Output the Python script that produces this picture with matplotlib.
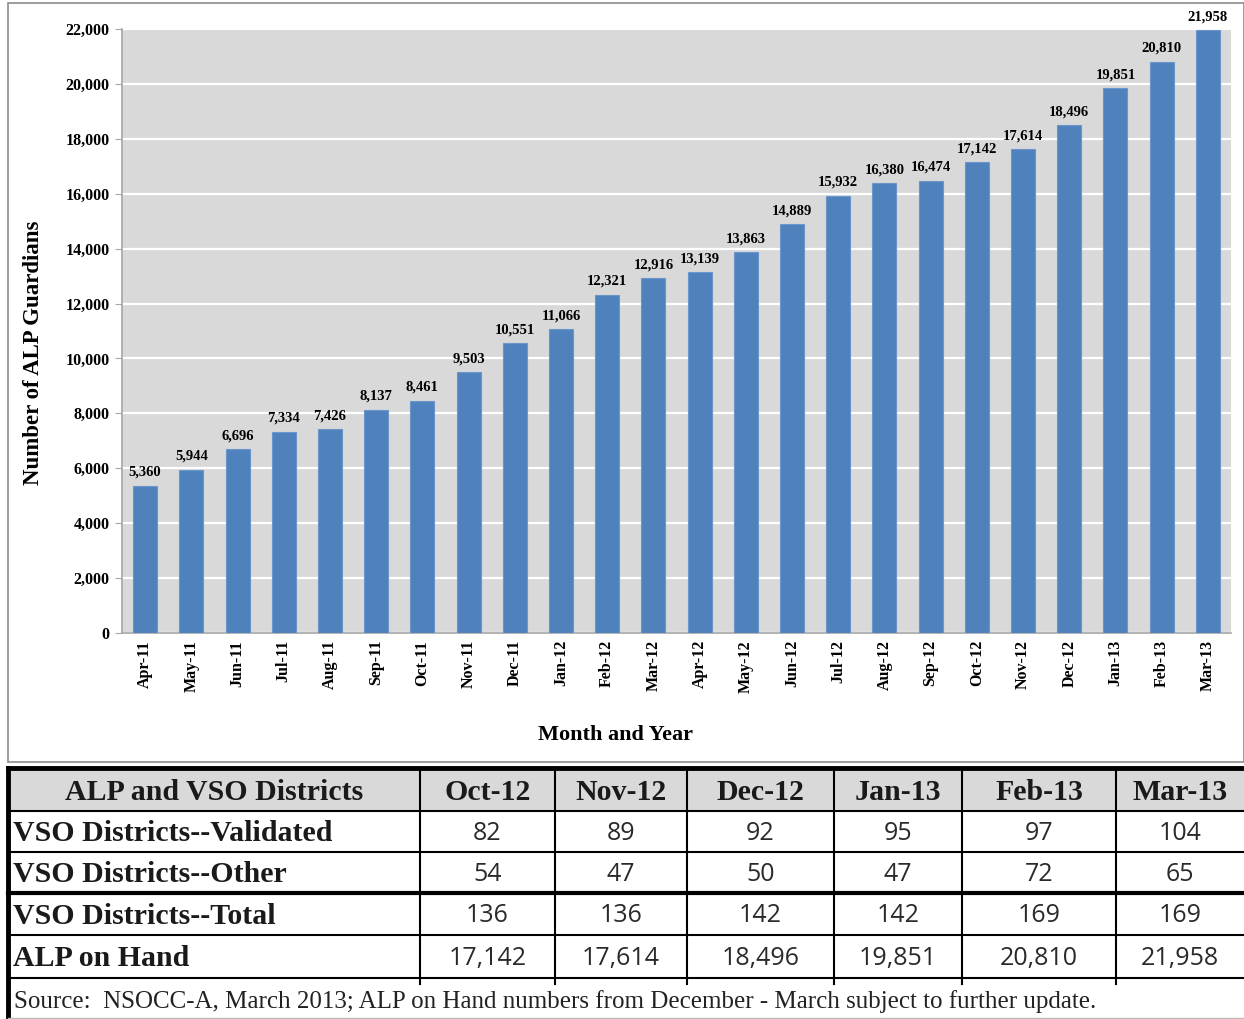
import matplotlib
matplotlib.use("Agg")
import matplotlib.pyplot as plt
from matplotlib.patches import Rectangle
from matplotlib.lines import Line2D
from matplotlib.ticker import FuncFormatter, MultipleLocator

months = ["Apr-11", "May-11", "Jun-11", "Jul-11", "Aug-11", "Sep-11", "Oct-11", "Nov-11",
          "Dec-11", "Jan-12", "Feb-12", "Mar-12", "Apr-12", "May-12", "Jun-12", "Jul-12",
          "Aug-12", "Sep-12", "Oct-12", "Nov-12", "Dec-12", "Jan-13", "Feb-13", "Mar-13"]
guardians = [5360, 5944, 6696, 7334, 7426, 8137, 8461, 9503, 10551, 11066, 12321, 12916,
             13139, 13863, 14889, 15932, 16380, 16474, 17142, 17614, 18496, 19851, 20810, 21958]

table_header = ["ALP and VSO Districts", "Oct-12", "Nov-12", "Dec-12", "Jan-13", "Feb-13", "Mar-13"]
row_labels = ["VSO Districts--Validated", "VSO Districts--Other", "VSO Districts--Total", "ALP on Hand"]
vso_validated = [82, 89, 92, 95, 97, 104]
vso_other = [54, 47, 50, 47, 72, 65]
vso_total = [136, 136, 142, 142, 169, 169]
alp_on_hand = [17142, 17614, 18496, 19851, 20810, 21958]
source_note = "Source:  NSOCC-A, March 2013; ALP on Hand numbers from December - March subject to further update."

SERIF = ["Liberation Serif", "DejaVu Serif"]
W, H = 1244, 1019
fig = plt.figure(figsize=(W / 100, H / 100), dpi=100)

# overlay axes in pixel coordinates
ov = fig.add_axes([0, 0, 1, 1], zorder=0)
ov.set_xlim(0, W)
ov.set_ylim(H, 0)
ov.axis("off")

# chart border
ov.add_patch(Rectangle((8, 3), W - 8, 759, fill=False, edgecolor="#8c8c8c", lw=1.2))

# bar chart
ax_l, ax_r, ax_t, ax_b = 122, 1231, 29, 633
ax = fig.add_axes([ax_l / W, 1 - ax_b / H, (ax_r - ax_l) / W, (ax_b - ax_t) / H], zorder=2)
ax.set_facecolor("#d9d9d9")
x = list(range(len(months)))
ax.bar(x, guardians, width=0.52, color="#4f81bd", edgecolor="#6b96cc", linewidth=0.8, zorder=3)
ax.set_xlim(-0.5, len(months) - 0.5)
ax.set_ylim(0, 22000)
ax.yaxis.set_major_locator(MultipleLocator(2000))
ax.yaxis.set_major_formatter(FuncFormatter(lambda v, p: f"{int(v):,}"))
ax.grid(axis="y", color="white", lw=1.6, zorder=1)
ax.set_axisbelow(True)
for s in ["top", "right"]:
    ax.spines[s].set_visible(False)
ax.spines["left"].set_color("#a6a6a6")
ax.spines["bottom"].set_color("#a6a6a6")
ax.spines["left"].set_linewidth(1.2)
ax.spines["bottom"].set_linewidth(1.2)
ax.tick_params(axis="y", length=5, color="#a6a6a6", pad=4)
ax.tick_params(axis="x", length=0, pad=5)
ax.set_xticks(x)
ax.set_xticklabels(months, rotation=90, fontsize=11.5, fontweight="bold", family=SERIF)
for t in ax.get_yticklabels():
    t.set_fontsize(11.5)
    t.set_fontweight("bold")
    t.set_family(SERIF)
for xi, v in zip(x, guardians):
    ax.annotate(f"{v:,}", (xi, v), xytext=(0, 5), textcoords="offset points",
                ha="center", va="bottom", fontsize=10.5, fontweight="bold", family=SERIF,
                annotation_clip=False, zorder=5)
ax.set_xlabel("Month and Year", fontsize=16, fontweight="bold", family=SERIF)
ax.xaxis.set_label_coords((615 - ax_l) / (ax_r - ax_l), -(735 - ax_b) / (ax_b - ax_t))
ax.xaxis.label.set_va("center")
ax.set_ylabel("Number of ALP Guardians", fontsize=16.5, fontweight="bold", family=SERIF)
ax.yaxis.set_label_coords(-(ax_l - 34) / (ax_r - ax_l), (ax_b - 353) / (ax_b - ax_t))
ax.yaxis.label.set_va("center")

# table
col_x = [8, 420, 555, 687, 834, 962, 1116, 1244]
row_y = [768, 811, 852, 893, 935, 978, 1019]
ov.add_patch(Rectangle((col_x[0], row_y[0]), W - col_x[0], row_y[1] - row_y[0],
                       facecolor="#d9d9d9", edgecolor="none"))
rows = [vso_validated, vso_other, vso_total, alp_on_hand]
txtc = "#1a1a1a"
for j, h in enumerate(table_header):
    cx = (col_x[j] + col_x[j + 1]) / 2
    ov.text(cx, (row_y[0] + row_y[1]) / 2 + 3, h, ha="center", va="center",
            fontsize=21.5, fontweight="bold", family=SERIF, color=txtc)
for i, (lab, vals) in enumerate(zip(row_labels, rows)):
    cy = (row_y[i + 1] + row_y[i + 2]) / 2 + 2
    ov.text(col_x[0] + 5, cy, lab, ha="left", va="center", fontsize=21.5,
            fontweight="bold", family=SERIF, color=txtc)
    for j, v in enumerate(vals):
        cx = (col_x[j + 1] + col_x[j + 2]) / 2
        ov.text(cx, cy, f"{v:,}", ha="center", va="center", fontsize=18,
                family=["Open Sans", "DejaVu Sans"], color="#2a2a2a")
ov.text(col_x[0] + 6, (row_y[5] + row_y[6]) / 2 + 3, source_note, ha="left", va="center",
        fontsize=18, family=SERIF, color="#222222")

# grid lines of the table
for yy in row_y[1:6]:
    lw = 3.0 if yy == 893 else 1.5
    ov.add_line(Line2D([col_x[0], W], [yy, yy], color="black", lw=lw))
ov.add_line(Line2D([col_x[0], W], [row_y[0], row_y[0]], color="black", lw=3.5))
ov.add_line(Line2D([col_x[0], col_x[0]], [row_y[0], H], color="black", lw=3.5))
for xx in col_x[1:7]:
    ov.add_line(Line2D([xx, xx], [row_y[0], row_y[5] + 6], color="black", lw=1.5))
ov.add_line(Line2D([col_x[0], W], [H - 1, H - 1], color="#bbbbbb", lw=1.0))

fig.savefig("out.png", dpi=100)
